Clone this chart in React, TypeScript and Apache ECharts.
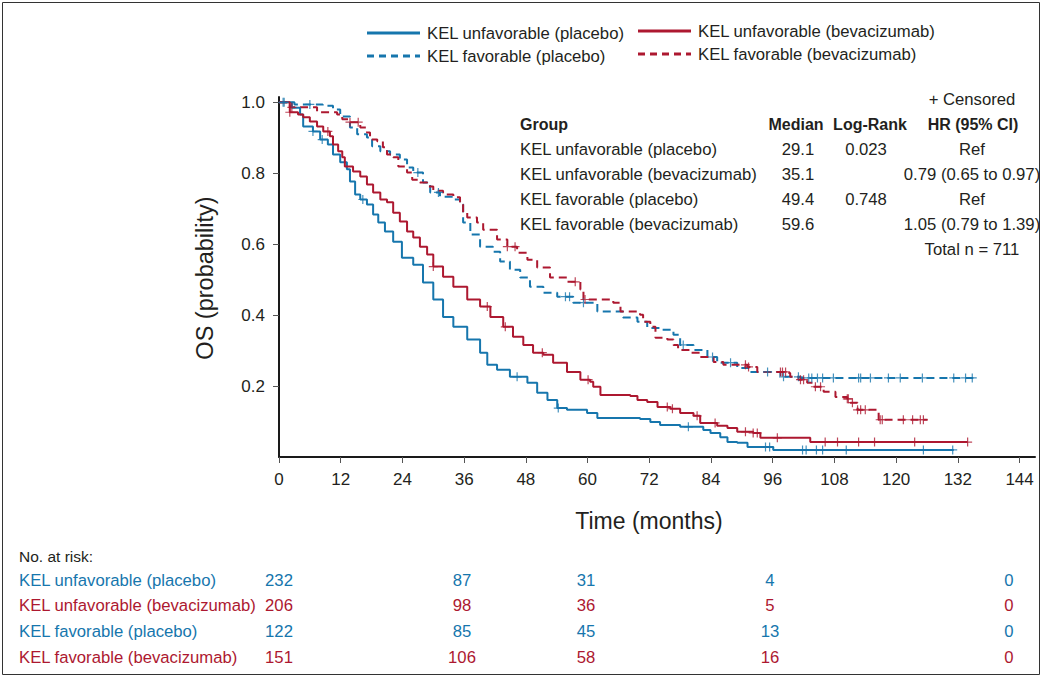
import React, { useEffect, useRef } from "react";
import * as echarts from "echarts";

// ---------- data ----------
const xTicks = [0, 12, 24, 36, 48, 60, 72, 84, 96, 108, 120, 132, 144];
const yTicks = [0.2, 0.4, 0.6, 0.8, 1.0];

const groupNames = [
  "KEL unfavorable (placebo)",
  "KEL unfavorable (bevacizumab)",
  "KEL favorable (placebo)",
  "KEL favorable (bevacizumab)",
];
const medians = ["29.1", "35.1", "49.4", "59.6"];
const logRank = ["0.023", "", "0.748", ""];
const hrCI = ["Ref", "0.79 (0.65 to 0.97)", "Ref", "1.05 (0.79 to 1.39)"];
const totalN = 711;

const unfavPlaceboCurve: [number, number][] = [
  [0, 1.0], [2.5, 0.985], [4.1, 0.966], [4.7, 0.932], [6.6, 0.918], [8.0, 0.895],
  [9.5, 0.881], [10.5, 0.853], [11.9, 0.831], [13.2, 0.811], [13.8, 0.777], [14.8, 0.74],
  [15.8, 0.726], [17.1, 0.712], [18.3, 0.684], [19.3, 0.661], [20.6, 0.636], [22.2, 0.607],
  [23.9, 0.562], [26.1, 0.542], [28.0, 0.492], [30.0, 0.444], [31.9, 0.395], [33.9, 0.367],
  [36.6, 0.331], [39.1, 0.294], [40.5, 0.26], [42.4, 0.246], [44.9, 0.226], [48.3, 0.209],
  [50.2, 0.181], [52.2, 0.161], [54.1, 0.138], [56.0, 0.133], [59.9, 0.124], [61.9, 0.11],
  [70.2, 0.107], [72.2, 0.099], [74.1, 0.09], [78.0, 0.085], [82.5, 0.076], [83.9, 0.068],
  [85.8, 0.056], [87.2, 0.042], [89.1, 0.04], [91.1, 0.028], [96.1, 0.02], [131.2, 0.02],
];
const unfavBevCurve: [number, number][] = [
  [0, 1.0], [2.1, 0.972], [3.7, 0.966], [4.7, 0.958], [6.0, 0.946], [7.4, 0.932],
  [8.6, 0.918], [9.9, 0.904], [10.5, 0.881], [11.5, 0.862], [12.3, 0.845], [12.8, 0.819],
  [14.4, 0.805], [15.8, 0.791], [17.1, 0.768], [18.3, 0.746], [19.7, 0.726], [21.0, 0.718],
  [22.2, 0.689], [23.5, 0.664], [24.9, 0.636], [26.1, 0.619], [27.4, 0.593], [28.8, 0.571],
  [30.0, 0.537], [31.9, 0.508], [33.9, 0.48], [36.6, 0.444], [39.1, 0.424], [41.1, 0.395],
  [43.6, 0.367], [45.5, 0.339], [47.5, 0.316], [49.4, 0.294], [51.4, 0.288], [53.3, 0.266],
  [56.0, 0.24], [58.6, 0.218], [60.5, 0.212], [61.1, 0.198], [62.5, 0.175], [68.3, 0.172],
  [69.7, 0.161], [71.6, 0.155], [73.6, 0.141], [76.1, 0.136], [78.0, 0.124], [80.6, 0.116],
  [81.9, 0.096], [85.2, 0.088], [87.2, 0.082], [89.1, 0.071], [92.2, 0.068], [93.6, 0.054],
  [103.3, 0.042], [133.9, 0.042],
];
const favPlaceboCurve: [number, number][] = [
  [0, 1.0], [3.0, 0.994], [8.5, 0.99], [10.5, 0.98], [11.9, 0.96], [13.8, 0.929],
  [15.2, 0.91], [17.1, 0.901], [18.1, 0.876], [19.7, 0.862], [21.6, 0.853], [23.5, 0.839],
  [24.9, 0.816], [26.1, 0.802], [28.0, 0.774], [29.4, 0.746], [31.3, 0.734], [33.9, 0.726],
  [35.2, 0.712], [35.8, 0.661], [37.2, 0.627], [39.1, 0.593], [41.6, 0.579], [43.0, 0.551],
  [44.9, 0.528], [46.9, 0.506], [48.8, 0.48], [51.4, 0.463], [54.1, 0.452], [57.2, 0.435],
  [61.9, 0.41], [66.9, 0.393], [69.7, 0.381], [71.6, 0.364], [74.1, 0.359], [76.7, 0.345],
  [78.0, 0.316], [80.6, 0.302], [83.3, 0.282], [85.2, 0.266], [89.1, 0.251], [91.6, 0.24],
  [97.5, 0.226], [101.4, 0.223], [135.0, 0.223],
];
const favBevCurve: [number, number][] = [
  [0, 1.0], [2.1, 0.986], [7.4, 0.972], [11.3, 0.966], [12.3, 0.952], [13.8, 0.944],
  [15.8, 0.929], [17.1, 0.915], [17.7, 0.895], [19.1, 0.89], [20.2, 0.873], [21.0, 0.853],
  [22.2, 0.845], [23.2, 0.819], [24.9, 0.802], [25.9, 0.782], [27.4, 0.774], [28.8, 0.763],
  [30.0, 0.751], [31.9, 0.74], [33.9, 0.732], [35.2, 0.718], [35.8, 0.689], [36.6, 0.675],
  [38.5, 0.661], [39.7, 0.641], [42.4, 0.613], [44.4, 0.593], [46.3, 0.576], [48.3, 0.556],
  [50.2, 0.534], [52.7, 0.506], [56.0, 0.494], [58.6, 0.472], [59.2, 0.444], [65.0, 0.435],
  [66.4, 0.41], [70.2, 0.401], [70.8, 0.381], [72.2, 0.367], [73.2, 0.336], [75.5, 0.331],
  [76.7, 0.316], [77.6, 0.302], [80.0, 0.294], [81.9, 0.282], [84.5, 0.268], [86.4, 0.26],
  [91.1, 0.254], [93.0, 0.24], [98.9, 0.237], [99.4, 0.226], [101.0, 0.218], [102.7, 0.209],
  [103.9, 0.198], [105.9, 0.184], [108.2, 0.169], [110.5, 0.164], [111.1, 0.153], [112.5, 0.133],
  [116.6, 0.105], [126.1, 0.105],
];

const unfavPlaceboCensor = [0.8, 6.6, 8.4, 16.3, 46.3, 54.3, 79.6, 94.6, 95.4, 101.8, 102.5, 104.5, 105.7, 110.3, 125.3, 131.0];
const unfavBevCensor = [2.1, 9.5, 30.0, 40.5, 44.0, 51.2, 60.1, 75.5, 76.5, 81.3, 84.8, 90.7, 92.2, 93.0, 96.9, 106.2, 108.6, 112.7, 115.8, 123.6, 133.9];
const favPlaceboCensor = [1.0, 6.0, 27.0, 31.0, 55.7, 56.5, 59.2, 78.6, 84.3, 87.8, 95.0, 98.1, 101.0, 103.0, 103.6, 104.7, 105.7, 107.8, 112.7, 113.1, 115.0, 118.5, 120.8, 125.1, 131.2, 133.5, 134.8];
const favBevCensor = [2.5, 13.8, 15.4, 44.4, 45.9, 57.6, 59.5, 90.7, 91.3, 97.5, 97.9, 98.5, 101.4, 102.0, 104.3, 105.3, 110.5, 110.7, 111.5, 112.5, 113.1, 114.0, 116.9, 117.3, 121.4, 123.2, 124.7, 125.3];

const riskLabels = groupNames;
const riskUnfavPlacebo = [232, 87, 31, 4, 0];
const riskUnfavBev = [206, 98, 36, 5, 0];
const riskFavPlacebo = [122, 85, 45, 13, 0];
const riskFavBev = [151, 106, 58, 16, 0];

// ---------- styles ----------
const BLUE = "#1676ad";
const RED = "#ad1830";
const TEXT = "#231f20";
const FONT = "'Liberation Sans', Arial, Helvetica, sans-serif";
const PLUS = "path://M3.9,0H5.1V3.9H9V5.1H5.1V9H3.9V5.1H0V3.9H3.9Z";
const FS = 16.7;

function stepValue(curve: [number, number][], t: number): number {
  let s = curve[0][1];
  for (const [x, y] of curve) {
    if (x <= t) s = y;
    else break;
  }
  return s;
}

export default function App() {
  const ref = useRef<HTMLDivElement>(null);

  useEffect(() => {
    document.body.style.margin = "0";
    if (!ref.current) return;
    const chart = echarts.init(ref.current, undefined, { renderer: "svg" });

    const curves = [
      { name: groupNames[0], data: unfavPlaceboCurve, censor: unfavPlaceboCensor, color: BLUE, dashed: false },
      { name: groupNames[1], data: unfavBevCurve, censor: unfavBevCensor, color: RED, dashed: false },
      { name: groupNames[2], data: favPlaceboCurve, censor: favPlaceboCensor, color: BLUE, dashed: true },
      { name: groupNames[3], data: favBevCurve, censor: favBevCensor, color: RED, dashed: true },
    ];

    const series: any[] = [];
    curves.forEach((c) => {
      series.push({
        type: "line",
        name: c.name,
        data: c.data,
        step: "end",
        showSymbol: false,
        symbol: "none",
        lineStyle: { color: c.color, width: 2, type: c.dashed ? [8, 5] : "solid" },
        z: c.dashed ? 2 : 3,
      });
      series.push({
        type: "scatter",
        name: c.name + " censored",
        data: c.censor.map((t) => [t, stepValue(c.data, t)]),
        symbol: PLUS,
        symbolSize: 9,
        itemStyle: { color: c.color },
        z: 4,
      });
    });

    const graphic: any[] = [];
    const txt = (text: string, x: number, y: number, opts: any = {}) =>
      graphic.push({
        type: "text",
        x,
        y,
        style: {
          text,
          font: `${opts.bold ? "bold " : ""}${opts.size || FS}px ${FONT}`,
          fill: opts.color || TEXT,
          textAlign: opts.align || "left",
          textVerticalAlign: "middle",
        },
        rotation: opts.rotation || 0,
        silent: true,
      });

    // border
    graphic.push({
      type: "rect",
      shape: { x: 2.5, y: 2.5, width: 1037, height: 672 },
      style: { fill: "none", stroke: "#333", lineWidth: 1 },
      silent: true,
    });

    // legend
    const legendItems = [
      { x: 367, y: 33, color: BLUE, dashed: false, label: groupNames[0] },
      { x: 638, y: 31, color: RED, dashed: false, label: groupNames[1] },
      { x: 367, y: 56, color: BLUE, dashed: true, label: groupNames[2] },
      { x: 638, y: 54, color: RED, dashed: true, label: groupNames[3] },
    ];
    legendItems.forEach((l) => {
      graphic.push({
        type: "line",
        shape: { x1: l.x, y1: l.y, x2: l.x + 53, y2: l.y },
        style: { stroke: l.color, lineWidth: 3, lineDash: l.dashed ? [7, 5] : null },
        silent: true,
      });
      txt(l.label, l.x + 60, l.y);
    });

    // axis titles
    txt("Time (months)", 649, 521, { size: 23, align: "center" });
    txt("OS (probability)", 205, 278, { size: 23.5, align: "center", rotation: Math.PI / 2 });

    // stats table
    txt("+ Censored", 972, 99, { align: "center" });
    txt("Group", 520, 124, { bold: true, size: 16 });
    txt("Median", 796, 124, { bold: true, size: 16, align: "center" });
    txt("Log-Rank", 870, 124, { bold: true, size: 16, align: "center" });
    txt("HR (95% CI)", 973, 124, { bold: true, size: 16, align: "center" });
    groupNames.forEach((g, i) => {
      const y = 149 + i * 25;
      txt(g, 520, y);
      txt(medians[i], 798, y, { align: "center" });
      if (logRank[i]) txt(logRank[i], 866, y, { align: "center" });
      txt(hrCI[i], 972, y, { align: "center" });
    });
    txt(`Total n = ${totalN}`, 972, 249, { align: "center" });

    // risk table
    txt("No. at risk:", 19, 556, { size: 15.5 });
    const riskRows = [riskUnfavPlacebo, riskUnfavBev, riskFavPlacebo, riskFavBev];
    const riskColors = [BLUE, RED, BLUE, RED];
    const riskCols = [279, 462, 586, 770, 1009];
    riskRows.forEach((row, i) => {
      const y = 580 + i * 25.7;
      txt(riskLabels[i], 19, y, { color: riskColors[i] });
      row.forEach((v, j) => txt(String(v), riskCols[j], y, { color: riskColors[i], align: "center" }));
    });

    chart.setOption({
      animation: false,
      backgroundColor: "#fff",
      grid: { left: 279, top: 97, width: 756, height: 360, containLabel: false },
      xAxis: {
        type: "value",
        min: 0,
        max: 147,
        axisLine: { show: true, onZero: false, lineStyle: { color: "#1a1a1a", width: 2 } },
        axisTick: { show: true, customValues: xTicks, length: 6, lineStyle: { color: "#555", width: 1 } },
        axisLabel: {
          customValues: xTicks,
          fontSize: 17,
          color: TEXT,
          fontFamily: FONT,
          margin: 14,
        },
        splitLine: { show: false },
      },
      yAxis: {
        type: "value",
        min: 0,
        max: 1.015,
        axisLine: { show: true, onZero: false, lineStyle: { color: "#1a1a1a", width: 2 } },
        axisTick: { show: true, customValues: yTicks, length: 6, lineStyle: { color: "#555", width: 1 } },
        axisLabel: {
          customValues: yTicks,
          formatter: (v: number) => v.toFixed(1),
          fontSize: 17,
          color: TEXT,
          fontFamily: FONT,
          margin: 14,
        },
        splitLine: { show: false },
      },
      series,
      graphic,
    });

    return () => chart.dispose();
  }, []);

  return <div ref={ref} style={{ width: 1042, height: 677 }} />;
}
